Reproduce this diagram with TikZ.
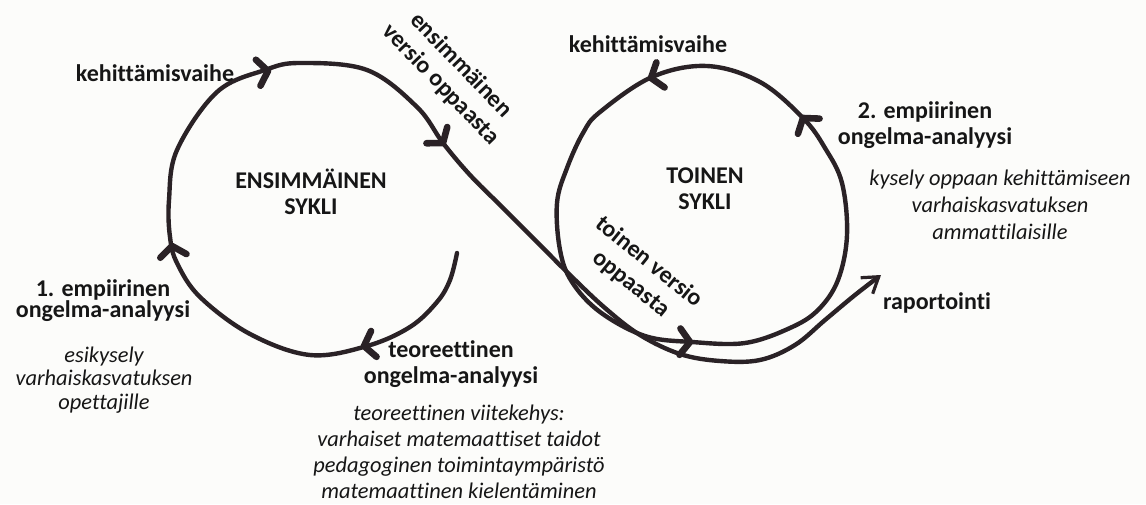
\documentclass[tikz,border=0pt]{standalone}
\usepackage{fontspec}
\setmainfont{Carlito}[Ligatures=NoCommon]
\usetikzlibrary{arrows.meta}
\definecolor{ink}{HTML}{2A2226}
\definecolor{txt}{HTML}{161616}
\definecolor{paper}{HTML}{FCFCFA}

\tikzset{
  stroke/.style={draw=ink, line width=2.2pt, line cap=round, line join=round},
  chev/.pic={\draw[ink, line width=3.3pt, line cap=round, line join=round]
      (-5pt,6.6pt) -- (0pt,0pt) -- (-5pt,-6.6pt);},
  lbl/.style={font=\bfseries\fontsize{12}{11}\selectfont, align=center, inner sep=0pt, text=txt},
  lblwide/.style={font=\bfseries\fontsize{12}{13}\selectfont, align=center, inner sep=0pt, text=txt},
  slant/.style={font=\bfseries\fontsize{12}{14}\selectfont, align=center, inner sep=0pt, text=txt},
  notewide/.style={font=\itshape\fontsize{11.2}{13.5}\selectfont, align=center, inner sep=0pt, text=txt}
}

\begin{document}
\begin{tikzpicture}[x=0.5pt, y=-0.5pt]
  % canvas
  \fill[paper] (0,0) rectangle (1146,504);
  \useasboundingbox (0,0) rectangle (1146,504);

  % first cycle, then the long sweep under the second cycle to the report
  \draw[stroke, -{Straight Barb[length=7.5pt, width=10pt, line width=1.6pt]}]
    plot[smooth, tension=0.6] coordinates {
      (457,253) (450,280) (437,302) (410,327) (367,346) (310,355) (250,334)
      (200,297) (177,263) (170,237) (169,200) (177,150) (217,92) (265,70)
      (300,63) (367,70) (417,107) (443,143) (470,175) (500,205) (535,240)
      (570,275) (605,308) (640,335) (680,354) (720,361) (760,360) (795,345)
      (825,320) (855,295) (881,275)};

  % second cycle
  \draw[stroke]
    plot[smooth cycle, tension=0.6] coordinates {
      (692,342) (745,343) (790,328) (818,310) (838,280) (847,235) (842,183)
      (825,148) (803,118) (760,82) (707,66) (652,77) (600,112) (583,133)
      (567,168) (557,203) (560,250) (572,282) (600,312) (645,336)};

  % direction marks along the cycles
  \pic[rotate=10]  at (268,71)  {chev};
  \pic[rotate=-52] at (443,143) {chev};
  \pic[rotate=98]  at (172,246) {chev};
  \pic[rotate=192] at (364,346) {chev};
  \pic[rotate=198] at (651,78)  {chev};
  \pic[rotate=125] at (803,118) {chev};
  \pic[rotate=-2]  at (690,342) {chev};

  % phase labels
  \node[lbl] (kv1) at (155,73) {kehittämisvaihe};
  \node[slant, rotate=-46] (ver1) at (451,75) {ensimmäinen\\versio oppaasta};
  \node[lbl] (kv2) at (648,44) {kehittämisvaihe};
  \node[lblwide] (emp2) at (925,125) {2. empiirinen\\ongelma-analyysi};
  \node[notewide] (emp2n) at (1000,205)
    {kysely oppaan kehittämiseen\\varhaiskasvatuksen\\ammattilaisille};
  \node[lblwide] (cyc1) at (311,192) {ENSIMMÄINEN\\SYKLI};
  \node[lblwide] (cyc2) at (705,189) {TOINEN\\SYKLI};
  \node[slant, rotate=-39] (ver2) at (640,273) {toinen versio\\oppaasta};
  \node[lbl] (rap) at (937,303) {raportointi};
  \node[font=\bfseries\fontsize{12}{10.5}\selectfont, align=center, inner sep=0pt, text=txt]
    (emp1) at (103,301) {1. empiirinen\\ongelma-analyysi};
  \node[font=\itshape\fontsize{11.2}{11.75}\selectfont, align=center, inner sep=0pt, text=txt]
    (emp1n) at (104,380) {esikysely\\varhaiskasvatuksen\\opettajille};
  \node[lblwide] (teo) at (451,364) {teoreettinen\\ongelma-analyysi};
  \node[font=\itshape\fontsize{11.2}{13}\selectfont, align=center, inner sep=0pt, text=txt]
    (teon) at (459,452)
    {teoreettinen viitekehys:\\varhaiset matemaattiset taidot\\pedagoginen toimintaympäristö\\matemaattinen kielentäminen};
\end{tikzpicture}
\end{document}
